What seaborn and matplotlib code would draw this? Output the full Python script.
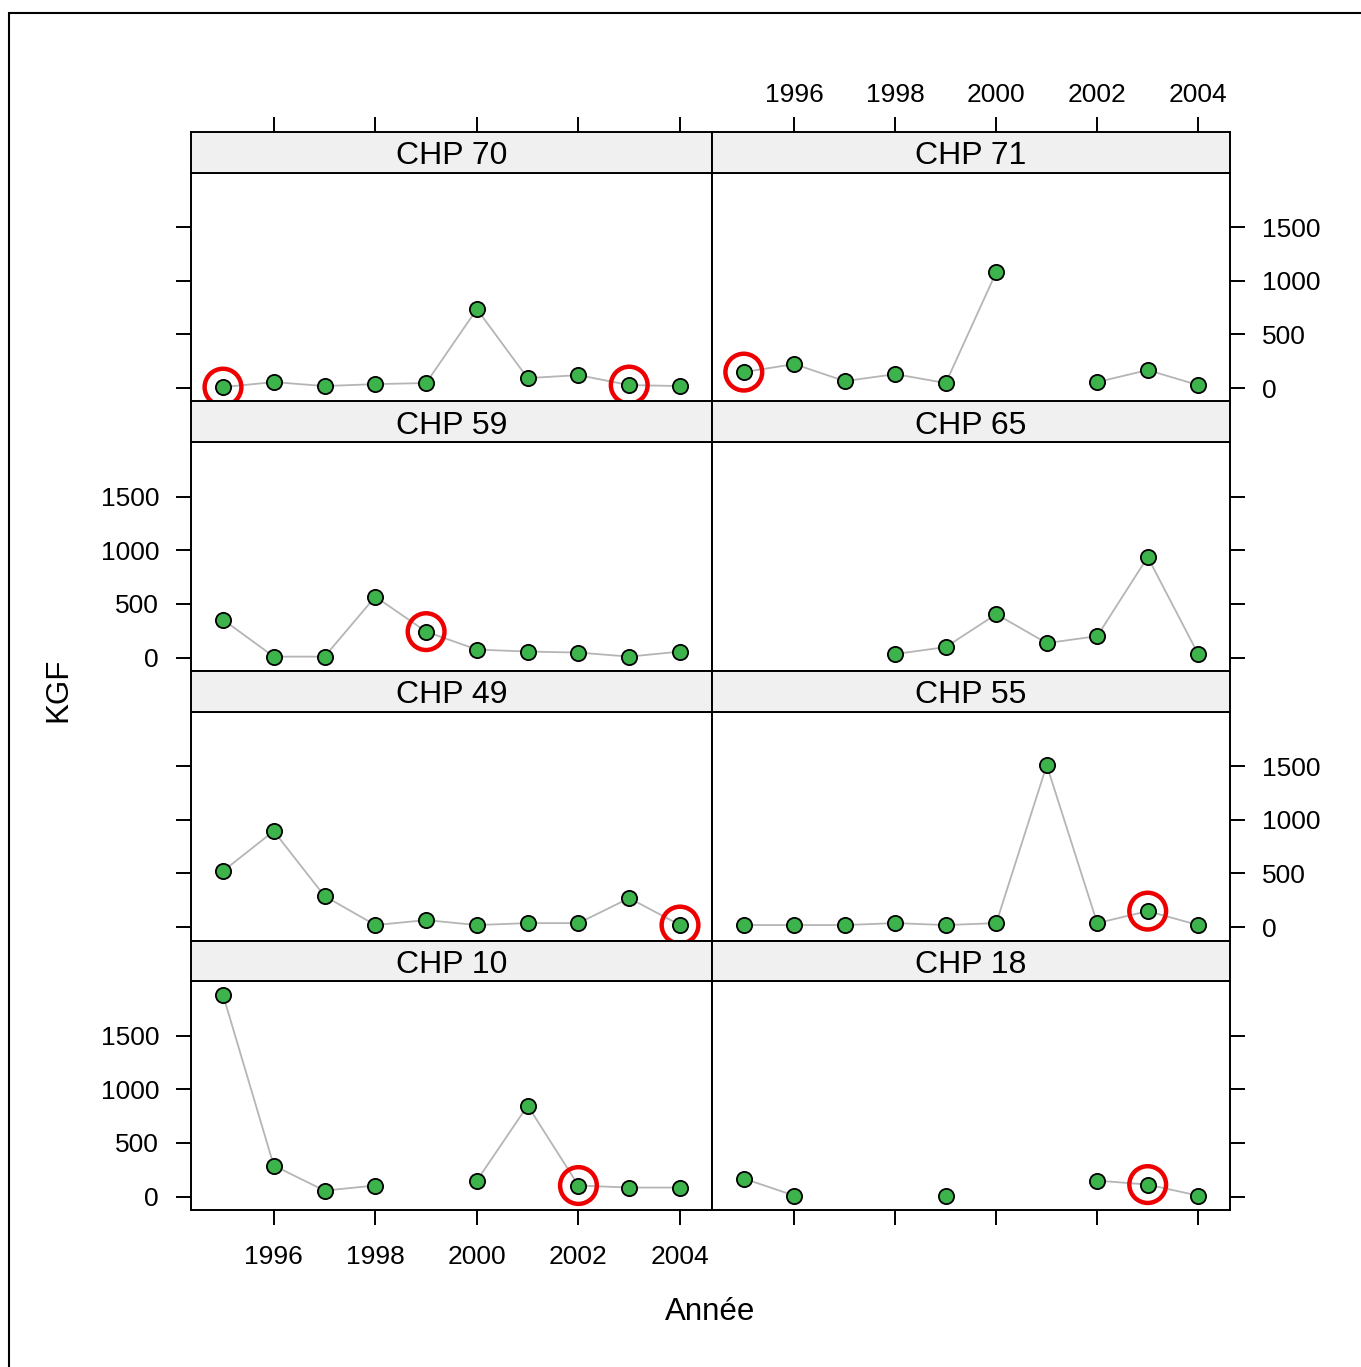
import numpy as np
import pandas as pd
import matplotlib
matplotlib.use("Agg")
import matplotlib.pyplot as plt
from matplotlib.patches import Rectangle
import seaborn as sns

years = list(range(1995, 2005))
nan = np.nan

chp70 = [9, 56, 19, 37, 47, 736, 93, 121, 28, 19]
chp71 = [149, 224, 65, 130, 47, 1081, nan, 56, 168, 28]
chp59 = [354, 9, 9, 568, 242, 75, 56, 47, 9, 56]
chp65 = [nan, nan, nan, 33, 98, 405, 135, 200, 937, 33]
chp49 = [522, 895, 289, 19, 65, 19, 37, 37, 270, 19]
chp55 = [19, 19, 19, 37, 19, 37, 1510, 37, 149, 19]
chp10 = [1882, 289, 56, 103, nan, 149, 848, 103, 84, 84]
chp18 = [168, 9, nan, nan, 9, nan, nan, 149, 112, 9]

panels = ["CHP 70", "CHP 71", "CHP 59", "CHP 65",
          "CHP 49", "CHP 55", "CHP 10", "CHP 18"]
series = [chp70, chp71, chp59, chp65, chp49, chp55, chp10, chp18]

# points circled in red
highlights = {"CHP 70": [1995, 2003], "CHP 71": [1995], "CHP 59": [1999],
              "CHP 49": [2004], "CHP 55": [2003], "CHP 10": [2002],
              "CHP 18": [2003]}

xticks = [1996, 1998, 2000, 2002, 2004]
yticks = [0, 500, 1000, 1500]

df = pd.DataFrame({
    "site": np.repeat(panels, len(years)),
    "year": years * len(panels),
    "kgf": np.concatenate(series),
})

sns.set_theme(style="ticks", rc={"text.color": "black", "axes.labelcolor": "black",
                                 "xtick.color": "black", "ytick.color": "black"})
plt.rcParams["font.family"] = ["Liberation Sans", "DejaVu Sans"]

W, H = 1361, 1367
fig = plt.figure(figsize=(W / 100, H / 100), dpi=100)

col_x = [(191, 712), (712, 1230)]
row_h = 269.5
strip_h = 40.5
xlim = (1994.37, 2004.63)
ylim = (-125, 2010)

for i, name in enumerate(panels):
    r, c = divmod(i, 2)
    x0, x1 = col_x[c]
    top = 132 + r * row_h
    ax = fig.add_axes([x0 / W, 1 - (top + row_h) / H, (x1 - x0) / W, (row_h - strip_h) / H])
    st = fig.add_axes([x0 / W, 1 - (top + strip_h) / H, (x1 - x0) / W, strip_h / H])

    sub = df[df["site"] == name]
    ax.plot(sub["year"], sub["kgf"], color="#b5b5b5", lw=1.3, zorder=2)
    sns.scatterplot(data=sub.dropna(), x="year", y="kgf", ax=ax, color="#3cb44b",
                    edgecolor="black", linewidth=1.3, s=120, zorder=3, legend=False)
    hl = sub[sub["year"].isin(highlights.get(name, []))]
    ax.scatter(hl["year"], hl["kgf"], s=700, facecolors="none",
               edgecolors="#ee0000", linewidths=3.2, zorder=4)

    ax.set_xlim(xlim)
    ax.set_ylim(ylim)
    ax.set_xticks(xticks)
    ax.set_yticks(yticks)
    ax.set_xlabel("")
    ax.set_ylabel("")
    ax.tick_params(direction="out", length=11, width=1.4, pad=12,
                   labelsize=19, colors="black")
    for a in (ax, st):
        for sp in a.spines.values():
            sp.set_visible(True)
            sp.set_linewidth(1.4)
            sp.set_color("black")

    if c == 0:
        ax.tick_params(axis="y", left=True, right=False,
                       labelleft=(r in (1, 3)), labelright=False)
    else:
        ax.tick_params(axis="y", left=False, right=True,
                       labelleft=False, labelright=(r in (0, 2)))
    if r == 3:
        ax.tick_params(axis="x", bottom=True, top=False, pad=14,
                       labelbottom=(c == 0), labeltop=False)
    else:
        ax.tick_params(axis="x", bottom=False, top=False,
                       labelbottom=False, labeltop=False)

    # strip with panel name
    st.set_facecolor("#f0f0f0")
    st.set_xlim(xlim)
    st.set_yticks([])
    if r == 0:
        st.set_xticks(xticks)
        st.tick_params(axis="x", direction="out", length=11, width=1.4, pad=7,
                       labelsize=19, colors="black", bottom=False, labelbottom=False,
                       top=True, labeltop=(c == 1))
    else:
        st.set_xticks([])
    st.text(0.5, 0.4, name, transform=st.transAxes, ha="center", va="center",
            fontsize=23, color="black")

fig.text(710 / W, 1 - 1312 / H, "Année", ha="center", va="center", fontsize=22.5)
fig.text(58 / W, 1 - 690 / H, "KGF", ha="center", va="center", rotation=90,
         fontsize=22.5)

# outer frame
fig.patches.append(Rectangle((8.5 / W, -0.05), 1.2, 1 - 12.5 / H + 0.05,
                             transform=fig.transFigure, fill=False,
                             lw=1.5, ec="black"))

fig.savefig("out.png", dpi=100)
